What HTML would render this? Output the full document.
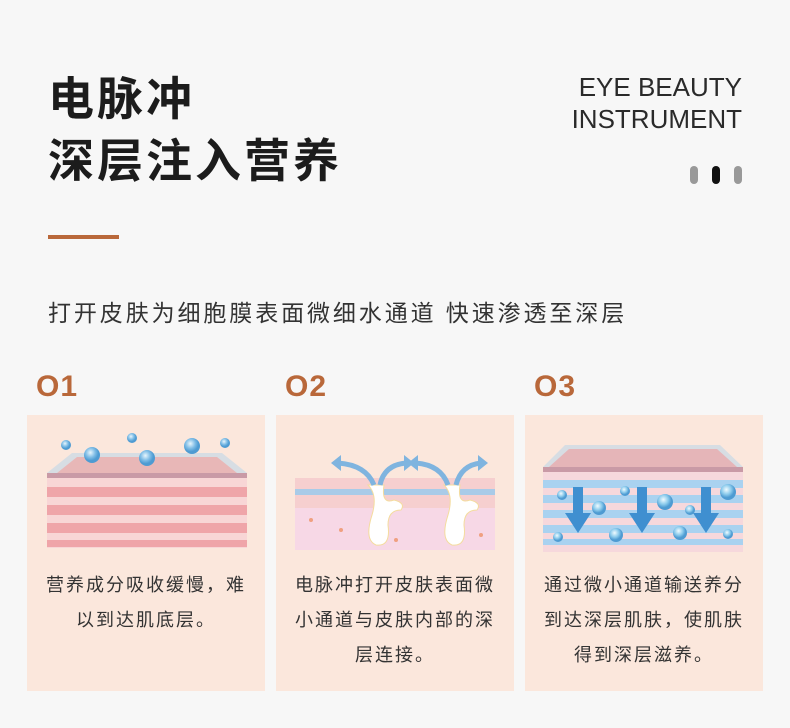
<!DOCTYPE html>
<html><head><meta charset="utf-8"><style>
*{margin:0;padding:0;box-sizing:border-box}
body{width:790px;height:728px;background:#f7f7f7;position:relative;overflow:hidden;font-family:"Liberation Sans","Noto Sans CJK SC",sans-serif;color:#222}
.t{position:absolute;font-weight:bold;font-size:46px;color:#1c1c1c;letter-spacing:3px;line-height:1}
.en{position:absolute;right:48px;font-size:26px;color:#2a2a2a;text-align:right;line-height:32px}
.dot{position:absolute;top:166px;width:8px;height:18px;border-radius:4px;background:#999}
.card{position:absolute;top:415px;width:238px;height:276px;background:#fbe7dc}
.num{position:absolute;top:370px;font-size:30px;font-weight:bold;color:#b9683a;letter-spacing:1px}
.desc{position:absolute;top:153px;left:0;width:100%;text-align:center;font-size:18px;letter-spacing:2px;line-height:35px;color:#333}
svg{position:absolute;left:0;top:0}
</style></head><body>
<div class="t" style="left:48px;top:76px">电脉冲</div>
<div class="t" style="left:48px;top:138px">深层注入营养</div>
<div class="en" style="top:71px">EYE BEAUTY<br>INSTRUMENT</div>
<div class="dot" style="left:690px"></div>
<div class="dot" style="left:712px;background:#111"></div>
<div class="dot" style="left:734px"></div>
<div style="position:absolute;left:48px;top:235px;width:71px;height:4px;background:#b9683a"></div>
<div style="position:absolute;left:48px;top:294px;font-size:23px;letter-spacing:2.9px;color:#333">打开皮肤为细胞膜表面微细水通道 快速渗透至深层</div>
<div class="num" style="left:36px">O1</div>
<div class="num" style="left:285px">O2</div>
<div class="num" style="left:534px">O3</div>

<div class="card" style="left:27px">
<svg width="238" height="140">
<defs><radialGradient id="b" cx=".4" cy=".35"><stop offset="0" stop-color="#e8f6fd"/><stop offset=".6" stop-color="#7fbde6"/><stop offset="1" stop-color="#4e9bd2"/></radialGradient></defs>
<polygon points="20,58 45,38 195,38 220,58" fill="#d7dde3"/>
<polygon points="30,58 50,42 190,42 210,58" fill="#e8b7b7"/>
<rect x="20" y="58" width="200" height="5" fill="#c99aa6"/>
<rect x="20" y="63" width="200" height="70" fill="#f8d6d6"/>
<g fill="#efa5a9"><rect x="20" y="72" width="200" height="10"/><rect x="20" y="90" width="200" height="10"/><rect x="20" y="108" width="200" height="10"/><rect x="20" y="125" width="200" height="7"/></g>
<circle cx="39" cy="30" r="5" fill="url(#b)"/><circle cx="105" cy="23" r="5" fill="url(#b)"/><circle cx="198" cy="28" r="5" fill="url(#b)"/>
<circle cx="65" cy="40" r="8" fill="url(#b)"/><circle cx="120" cy="43" r="8" fill="url(#b)"/><circle cx="165" cy="31" r="8" fill="url(#b)"/>
</svg>
<div class="desc">营养成分吸收缓慢，难<br>以到达肌底层。</div>
</div>

<div class="card" style="left:276px">
<svg width="238" height="140">
<rect x="19" y="63" width="200" height="30" fill="#f6cfcf"/>
<g fill="#a9cbe8"><rect x="19" y="74" width="200" height="6"/></g>
<rect x="19" y="93" width="200" height="42" fill="#f7d8e6"/>
<g fill="#f0a080"><circle cx="35" cy="105" r="2"/><circle cx="65" cy="115" r="2"/><circle cx="100" cy="108" r="2"/><circle cx="180" cy="110" r="2"/><circle cx="205" cy="120" r="2"/><circle cx="120" cy="125" r="2"/></g>
<path d="M92 70 Q102 80 96 100 Q88 125 100 130 Q115 132 112 110 Q112 95 125 95 Q130 88 118 85 Q105 90 108 70 Z" fill="#fff" stroke="#f4dc9e"/>
<path d="M168 70 Q178 80 172 100 Q164 125 176 130 Q191 132 188 110 Q188 95 201 95 Q206 88 194 85 Q181 90 184 70 Z" fill="#fff" stroke="#f4dc9e"/>
<g stroke="#7fb4df" stroke-width="5" fill="none"><path d="M98 70 Q90 50 62 48"/><path d="M104 70 Q108 50 130 48"/><path d="M172 70 Q165 50 140 48"/><path d="M180 70 Q185 50 205 48"/></g>
<g fill="#7fb4df"><polygon points="55,48 65,40 65,56"/><polygon points="138,48 128,40 128,56"/><polygon points="132,48 142,40 142,56"/><polygon points="212,48 202,40 202,56"/></g>
</svg>
<div class="desc">电脉冲打开皮肤表面微<br>小通道与皮肤内部的深<br>层连接。</div>
</div>

<div class="card" style="left:525px">
<svg width="238" height="140">
<defs><radialGradient id="c" cx=".4" cy=".35"><stop offset="0" stop-color="#f0fbff"/><stop offset=".6" stop-color="#8ccbec"/><stop offset="1" stop-color="#4e9bd2"/></radialGradient></defs>
<polygon points="18,52 40,30 195,30 218,52" fill="#d7dde3"/>
<polygon points="24,52 44,34 192,34 212,52" fill="#e5b5b8"/>
<rect x="18" y="52" width="200" height="5" fill="#c99aa6"/>
<rect x="18" y="57" width="200" height="80" fill="#f6d8dc"/>
<g fill="#a9d2f0"><rect x="18" y="65" width="200" height="8"/><rect x="18" y="80" width="200" height="8"/><rect x="18" y="95" width="200" height="8"/><rect x="18" y="110" width="200" height="8"/><rect x="18" y="124" width="200" height="6"/></g>
<g fill="#3f8fd0"><rect x="48" y="72" width="10" height="28"/><polygon points="40,98 66,98 53,118"/><rect x="112" y="72" width="10" height="28"/><polygon points="104,98 130,98 117,118"/><rect x="176" y="72" width="10" height="28"/><polygon points="168,98 194,98 181,118"/></g>
<g fill="url(#c)"><circle cx="37" cy="80" r="5"/><circle cx="74" cy="93" r="7"/><circle cx="100" cy="76" r="5"/><circle cx="140" cy="87" r="8"/><circle cx="165" cy="95" r="5"/><circle cx="203" cy="77" r="8"/><circle cx="33" cy="122" r="5"/><circle cx="91" cy="120" r="7"/><circle cx="155" cy="118" r="7"/><circle cx="203" cy="119" r="5"/></g>
</svg>
<div class="desc">通过微小通道输送养分<br>到达深层肌肤，使肌肤<br>得到深层滋养。</div>
</div>
</body></html>
